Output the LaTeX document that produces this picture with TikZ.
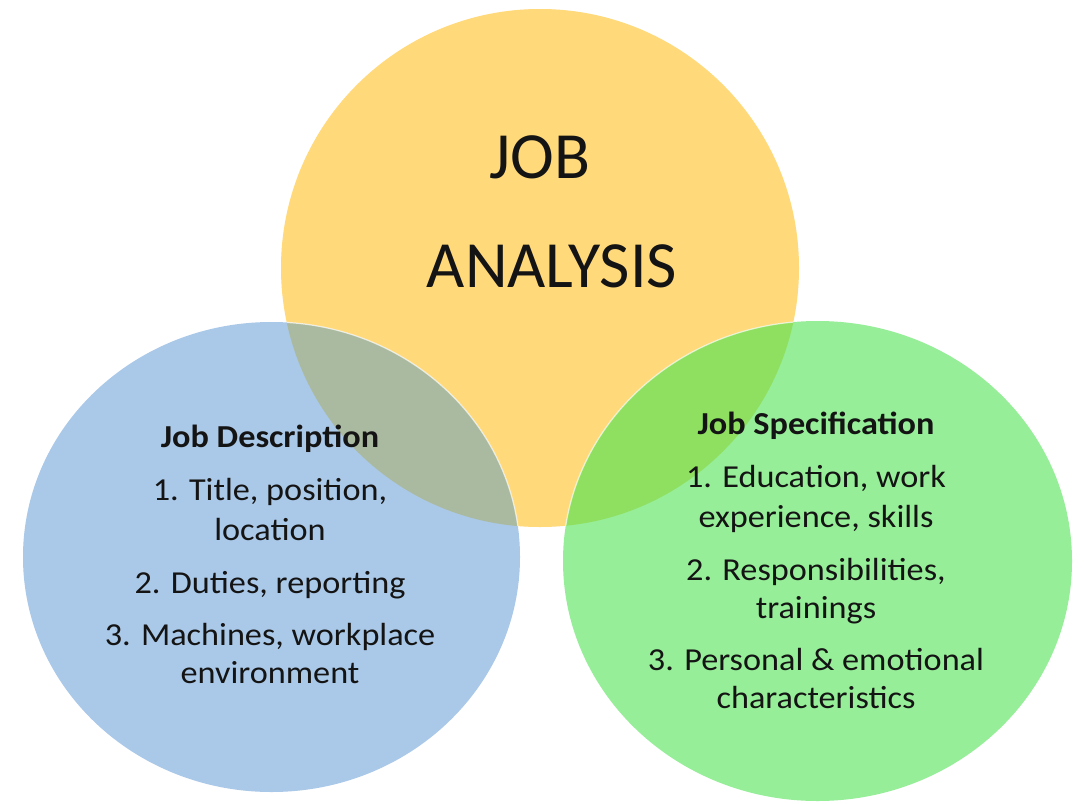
\documentclass[tikz,border=0pt]{standalone}
\usepackage{fontspec}
\setmainfont{Carlito}
\newfontfamily\bodyfont{Carlito}[FakeStretch=1.07]
\definecolor{yel}{RGB}{255,217,122}
\definecolor{blu}{RGB}{170,200,232}
\definecolor{grn}{RGB}{150,238,152}
\definecolor{byov}{RGB}{170,186,160}
\definecolor{gyov}{RGB}{143,224,96}
\definecolor{ink}{RGB}{20,20,20}
\begin{document}
\begin{tikzpicture}[x=1pt,y=-1pt,
  titletxt/.style={font=\fontsize{66}{78}\selectfont, text=ink, inner sep=0pt, anchor=base},
  bodytxt/.style={font=\bodyfont\fontsize{32}{38}\selectfont, text=ink, inner sep=0pt, anchor=base},
  headtxt/.style={font=\bodyfont\fontsize{32}{38}\selectfont\bfseries, text=ink, inner sep=0pt, anchor=base},
  rim/.style={draw=white, draw opacity=0.7, line width=1.2pt}]
\useasboundingbox (0,0) rectangle (1084,803);
\fill[white] (0,0) rectangle (1084,803);
% circles
\fill[yel] (540,268) circle [radius=259pt];
\fill[blu] (271.5,557) ellipse [x radius=248.5pt, y radius=235pt];
\fill[grn] (817.5,561) ellipse [x radius=254.5pt, y radius=240pt];
% overlaps
\begin{scope}
  \clip (540,268) circle [radius=259pt];
  \fill[byov] (271.5,557) ellipse [x radius=248.5pt, y radius=235pt];
  \fill[gyov] (817.5,561) ellipse [x radius=254.5pt, y radius=240pt];
\end{scope}
\begin{scope}
  \clip (540,268) circle [radius=259pt];
  \path[rim] (271.5,557) ellipse [x radius=248.5pt, y radius=235pt];
  \path[rim] (817.5,561) ellipse [x radius=254.5pt, y radius=240pt];
\end{scope}
% title
\node[titletxt] (job) at (540,178) {JOB};
\node[titletxt] (analysis) at (552,287) {ANALYSIS};
% job description
\node[headtxt] (dhead) at (270,447) {Job Description};
\node[bodytxt] (d1a) at (270,500) {1. Title, position,};
\node[bodytxt] (d1b) at (270,540) {location};
\node[bodytxt] (d2) at (270,593) {2. Duties, reporting};
\node[bodytxt] (d3a) at (270,645) {3. Machines, workplace};
\node[bodytxt] (d3b) at (270,683) {environment};
% job specification
\node[headtxt] (shead) at (816,434) {Job Specification};
\node[bodytxt] (s1a) at (816,487) {1. Education, work};
\node[bodytxt] (s1b) at (816,527) {experience, skills};
\node[bodytxt] (s2a) at (816,580) {2. Responsibilities,};
\node[bodytxt] (s2b) at (816,618) {trainings};
\node[bodytxt] (s3a) at (816,670) {3. Personal \& emotional};
\node[bodytxt] (s3b) at (816,708) {characteristics};
\end{tikzpicture}
\end{document}
